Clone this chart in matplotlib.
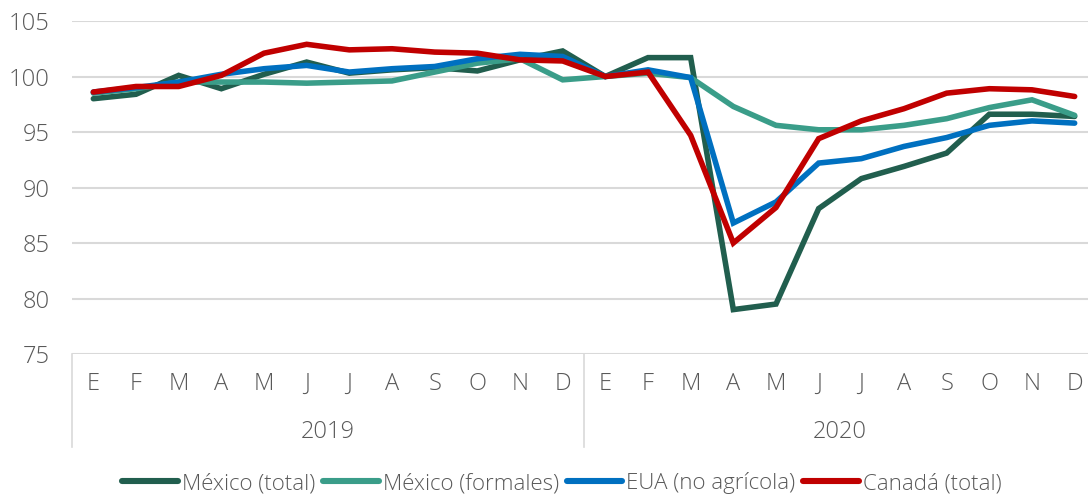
import matplotlib
matplotlib.use("Agg")
import matplotlib.pyplot as plt
from matplotlib.transforms import blended_transform_factory

months = ["E", "F", "M", "A", "M", "J", "J", "A", "S", "O", "N", "D"]
years = ["2019", "2020"]

mexico_total = [98.0, 98.4, 100.1, 98.9, 100.2, 101.3, 100.3, 100.6, 100.8, 100.5, 101.5, 102.3,
                100.0, 101.7, 101.7, 79.0, 79.5, 88.1, 90.8, 91.9, 93.1, 96.6, 96.6, 96.4]
mexico_formales = [98.5, 98.9, 99.5, 99.5, 99.5, 99.4, 99.5, 99.6, 100.4, 101.2, 101.6, 99.7,
                   100.0, 100.3, 99.9, 97.3, 95.6, 95.2, 95.2, 95.6, 96.2, 97.2, 97.9, 96.5]
eua = [98.6, 99.0, 99.5, 100.2, 100.7, 101.0, 100.4, 100.7, 100.9, 101.6, 102.0, 101.8,
       100.0, 100.6, 99.9, 86.8, 88.7, 92.2, 92.6, 93.7, 94.5, 95.6, 96.0, 95.8]
canada = [98.6, 99.1, 99.1, 100.1, 102.1, 102.9, 102.4, 102.5, 102.2, 102.1, 101.5, 101.4,
          100.0, 100.4, 94.7, 85.0, 88.2, 94.4, 96.0, 97.1, 98.5, 98.9, 98.8, 98.2]

series = [
    ("México (total)", mexico_total, "#215E4E"),
    ("México (formales)", mexico_formales, "#3A9D89"),
    ("EUA (no agrícola)", eua, "#0070C0"),
    ("Canadá (total)", canada, "#C00000"),
]

plt.rcParams['font.family'] = ['Open Sans', 'DejaVu Sans']
text_color = "#595959"
tick_fs = 17
leg_fs = 16

W, H = 1088, 498
fig = plt.figure(figsize=(W / 100, H / 100), dpi=100)
left, right, top, bottom = 72, 1096, 21, 354
ax = fig.add_axes([left / W, 1 - bottom / H, (right - left) / W, (bottom - top) / H])

x = list(range(len(mexico_total)))
for name, vals, col in series:
    ax.plot(x, vals, color=col, lw=4.0, label=name, solid_joinstyle='miter', solid_capstyle='round')

ax.set_xlim(-0.5, len(x) - 0.5)
ax.set_ylim(75, 105)
ax.set_yticks([75, 80, 85, 90, 95, 100, 105])
ax.grid(axis='y', color="#D9D9D9", lw=1.5)
ax.set_axisbelow(True)
for s in ax.spines.values():
    s.set_visible(False)
ax.tick_params(axis='y', length=0, pad=16, labelsize=tick_fs, labelcolor=text_color)
ax.tick_params(axis='x', length=0)
ax.set_xticks([])
for lbl in ax.get_yticklabels():
    lbl.set_fontweight('light')

trans = blended_transform_factory(ax.transData, ax.transAxes)
ph = bottom - top
labels_all = months * len(years)
for i, m in enumerate(labels_all):
    ax.text(i, -(384 - bottom) / ph, m, transform=trans, ha='center', va='center',
            fontsize=tick_fs, color=text_color, fontweight='light')
for j, yr in enumerate(years):
    ax.text(j * 12 + 5.5, -(432 - bottom) / ph, yr, transform=trans, ha='center', va='center',
            fontsize=tick_fs, color=text_color, fontweight='light')
for b in [-0.5, 11.5, 23.5]:
    ax.plot([b, b], [0, -(447 - bottom) / ph], transform=trans, color="#D9D9D9",
            lw=1.2, clip_on=False)

leg = fig.legend(loc='center', bbox_to_anchor=(562 / W, 1 - 483 / H), ncol=4, frameon=False,
                 fontsize=leg_fs, handlelength=2.5, handletextpad=0.18, columnspacing=0.36,
                 labelcolor=text_color)
for t in leg.get_texts():
    t.set_fontweight('light')
for h in leg.get_lines():
    h.set_linewidth(4.4)
    h.set_solid_capstyle('round')

fig.savefig("out.png", dpi=100)
